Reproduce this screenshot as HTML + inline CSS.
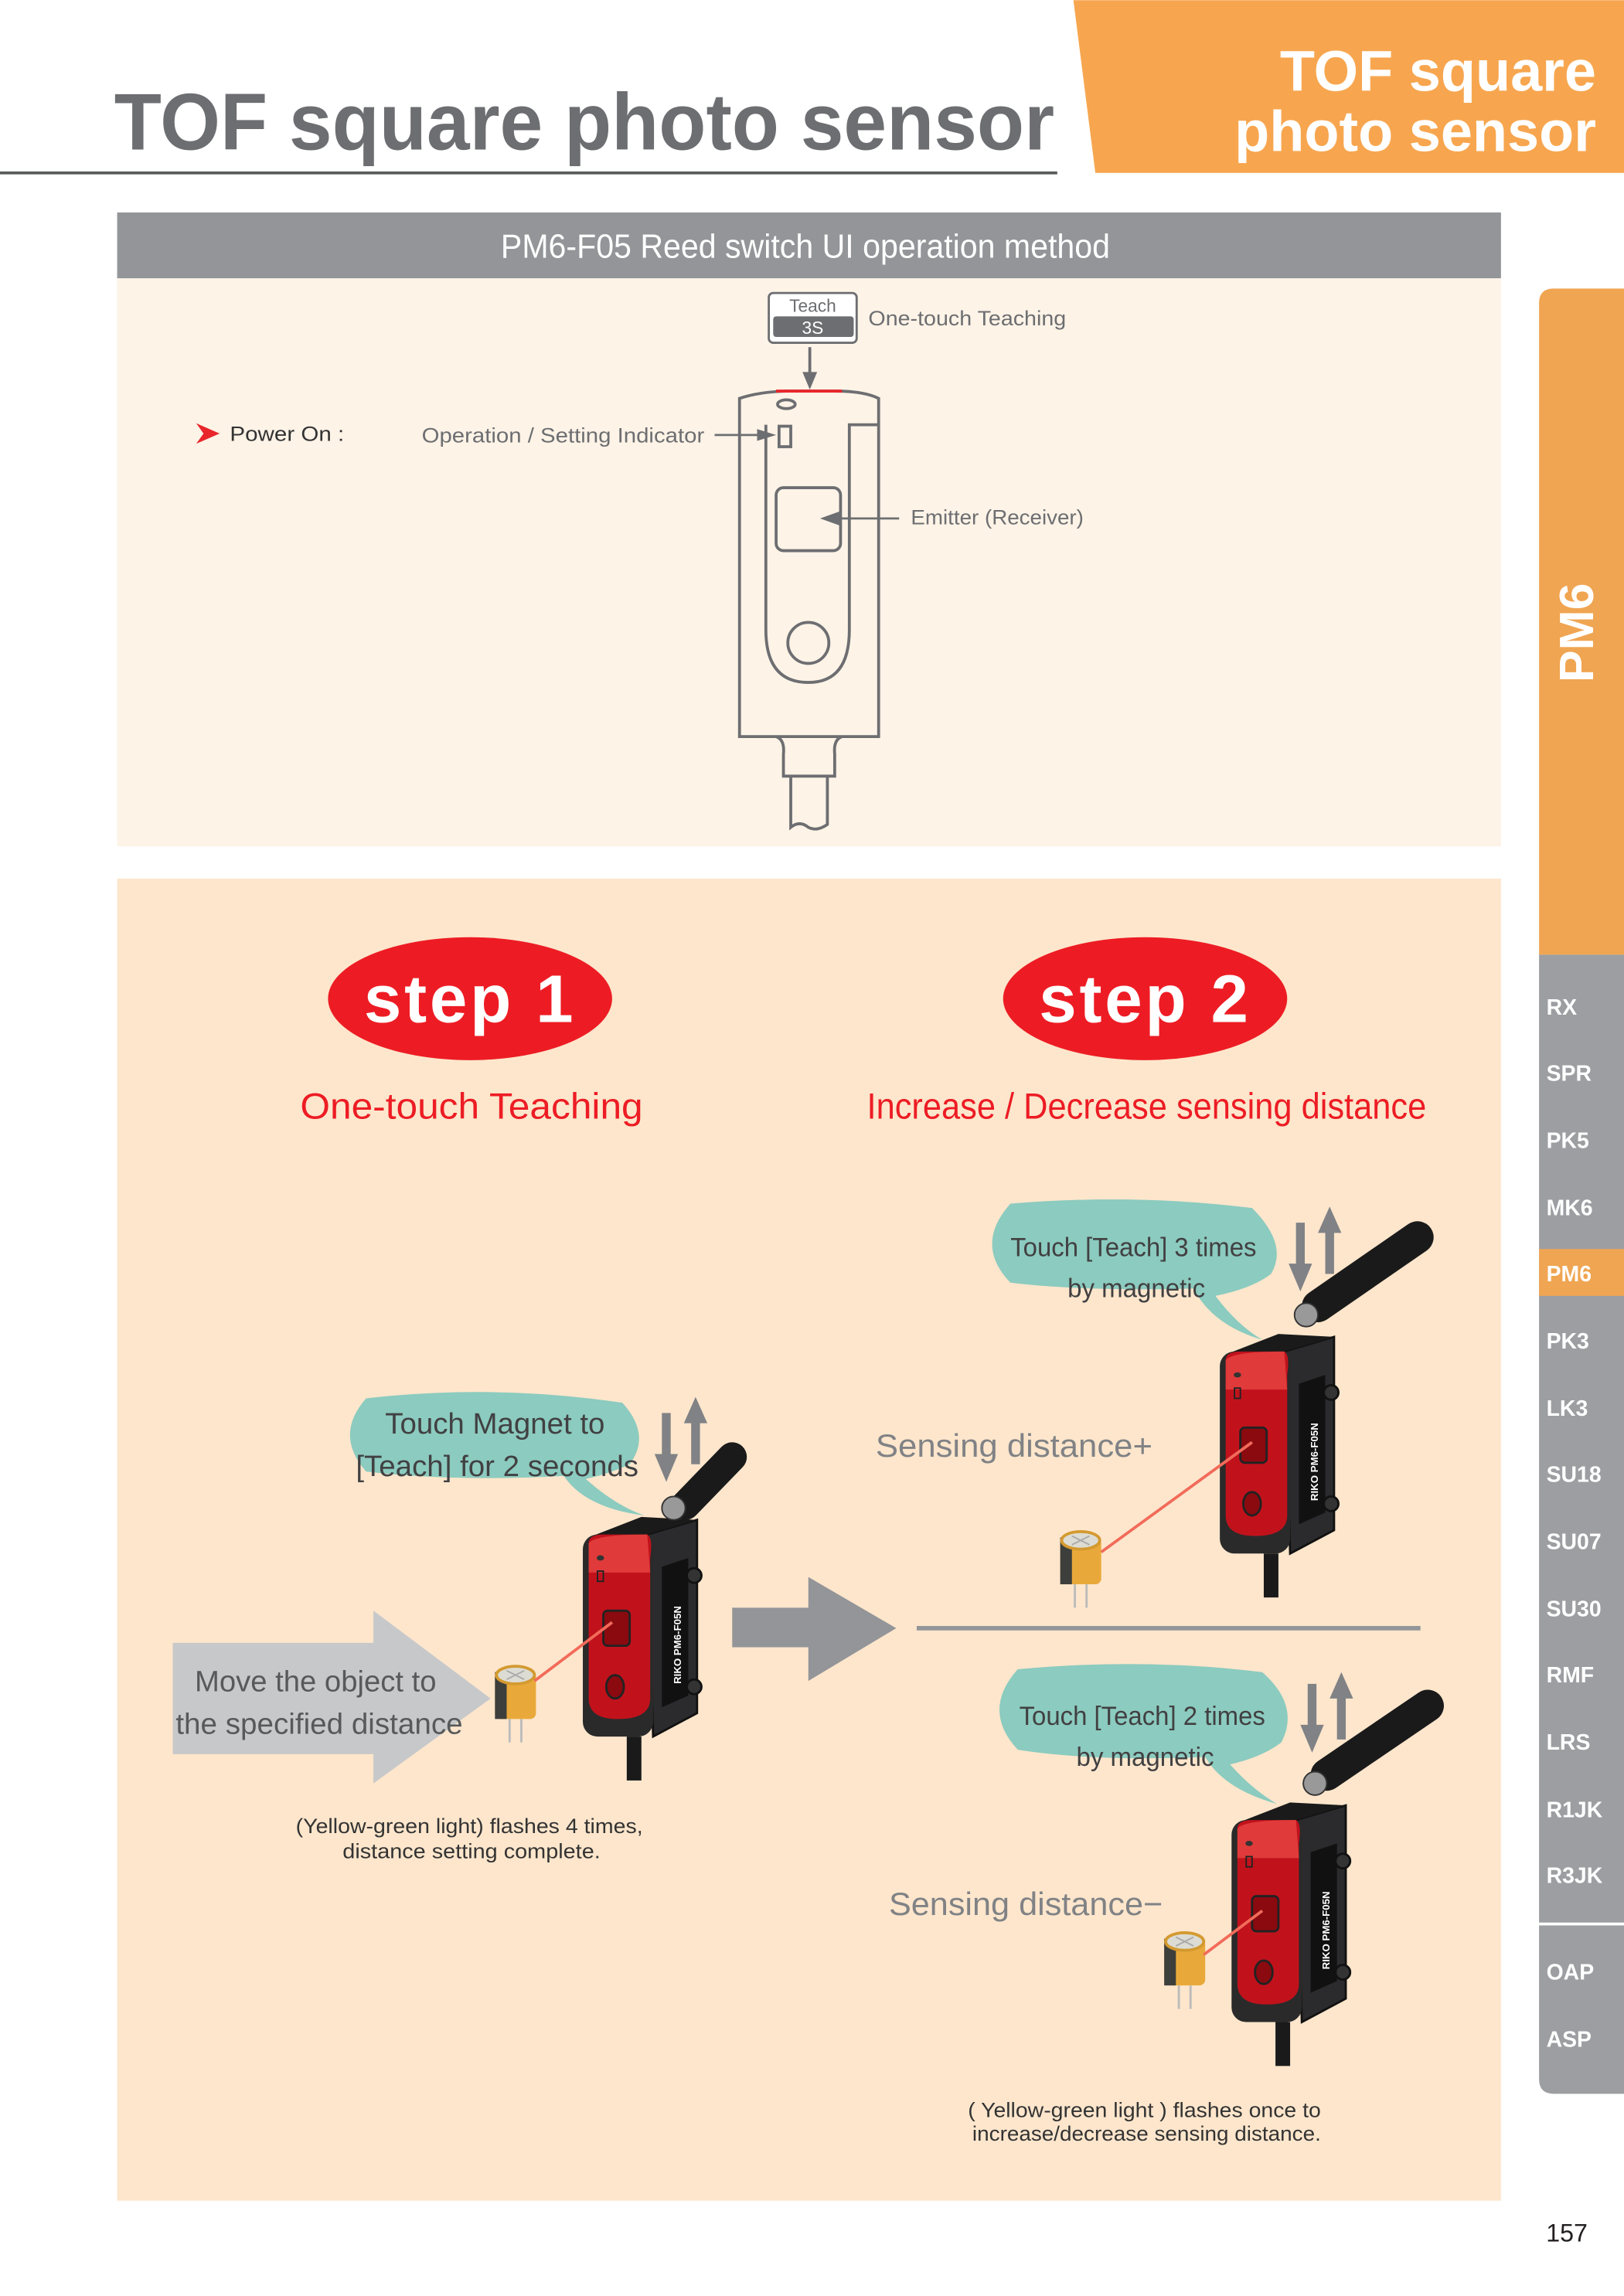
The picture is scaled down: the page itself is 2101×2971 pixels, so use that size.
<!DOCTYPE html>
<html><head><meta charset="utf-8"><style>html,body{margin:0;padding:0;background:#fff}svg{display:block}</style></head>
<body>
<svg xmlns="http://www.w3.org/2000/svg" width="2101" height="2971" viewBox="0 0 1109 1568" font-family="Liberation Sans, sans-serif">
<defs>
<g id="sensor">
  <path d="M44,8 L78,-2 L78,130 L48,146 Z" fill="#2b2b2d" stroke="#111" stroke-width="1.5"/>
  <path d="M4,10 L44,8 L78,-2 L40,-4 Z" fill="#1a1a1a"/>
  <rect x="0" y="8" width="48" height="138" rx="10" fill="#2a2a2a"/>
  <path d="M4,14 Q4,8 14,8 L44,8 Q48,10 46,24 L46,120 Q46,134 24,134 Q4,134 4,120 Z" fill="#c1121c"/>
  <path d="M4,14 Q8,8 44,8 L46,34 L4,34 Z" fill="#e03a3a"/>
  <rect x="14" y="60" width="18" height="24" rx="3" fill="#8a0a10" stroke="#222" stroke-width="1.5"/>
  <ellipse cx="22" cy="112" rx="6" ry="8" fill="#8a0a10" stroke="#222" stroke-width="1.5"/>
  <ellipse cx="12" cy="24" rx="2.5" ry="1.8" fill="#333"/>
  <rect x="10" y="33" width="4" height="7" fill="none" stroke="#222" stroke-width="1"/>
  <path d="M54,30 L72,24 L72,118 L54,126 Z" fill="#111"/>
  <circle cx="76" cy="36" r="5" fill="#333" stroke="#111" stroke-width="1.5"/>
  <circle cx="76" cy="112" r="5" fill="#333" stroke="#111" stroke-width="1.5"/>
  <rect x="30" y="146" width="10" height="30" fill="#1a1a1a"/>
</g>
<g id="cap">
  <rect x="0" y="4" width="28" height="32" rx="4" fill="#e9a93a"/>
  <rect x="0" y="4" width="8" height="32" fill="#3d3f3c"/>
  <ellipse cx="14" cy="6" rx="13" ry="6" fill="#dcdcd4" stroke="#d49a30" stroke-width="2"/>
  <path d="M8,3 L20,9 M20,3 L8,9" stroke="#aaa" stroke-width="1"/>
  <path d="M10,36 L10,52 M18,36 L18,52" stroke="#bbb" stroke-width="1.5"/>
</g>
</defs>

<text x="78" y="102" font-size="55" font-weight="bold" fill="#6d6e71" textLength="642" lengthAdjust="spacingAndGlyphs">TOF square photo sensor</text>
<line x1="0" y1="118" x2="722" y2="118" stroke="#58595b" stroke-width="2"/>
<polygon points="733,0 1109,0 1109,118 748,118" fill="#f7a64f"/>
<text x="1090" y="62" font-size="39" font-weight="bold" fill="#fff" text-anchor="end">TOF square</text>
<text x="1090" y="103" font-size="39" font-weight="bold" fill="#fff" text-anchor="end">photo sensor</text>

<rect x="80" y="145" width="945" height="45" fill="#939598"/>
<text x="342" y="176" font-size="23" fill="#fff" textLength="416" lengthAdjust="spacingAndGlyphs">PM6-F05 Reed switch UI operation method</text>
<rect x="80" y="190" width="945" height="388" fill="#fdf3e7"/>

<polygon points="134,289 150,296 134,303 139,296" fill="#e8262b"/>
<text x="157" y="301" font-size="14" fill="#333" textLength="78" lengthAdjust="spacingAndGlyphs">Power On :</text>
<text x="288" y="302" font-size="14" fill="#6d6e71" textLength="193" lengthAdjust="spacingAndGlyphs">Operation / Setting Indicator</text>
<line x1="488" y1="297" x2="520" y2="297" stroke="#6d6e71" stroke-width="1.5"/>
<polygon points="530,297 517,293 517,301" fill="#6d6e71"/>

<rect x="525" y="200" width="60" height="34" rx="3" fill="#fff" stroke="#6d6e71" stroke-width="1.5"/>
<text x="555" y="213" font-size="12" fill="#6d6e71" text-anchor="middle">Teach</text>
<rect x="528" y="216" width="55" height="14" rx="2" fill="#6d6e71"/>
<text x="555" y="228" font-size="12" fill="#fff" text-anchor="middle">3S</text>
<text x="593" y="222" font-size="14" fill="#6d6e71" textLength="135" lengthAdjust="spacingAndGlyphs">One-touch Teaching</text>
<line x1="553" y1="237" x2="553" y2="256" stroke="#6d6e71" stroke-width="2"/>
<polygon points="553,266 548,254 558,254" fill="#6d6e71"/>

<g fill="none" stroke="#6d6e71" stroke-width="2">
  <path d="M505,503 L505,272 Q520,267 540,267 L570,267 Q590,267 600,272 L600,503 Z"/>
  <path d="M523,290 L523,430 Q523,466 552,466 Q580,466 580,430 L580,290 L600,290"/>
  <rect x="530" y="333" width="44" height="43" rx="5"/>
  <circle cx="552" cy="439" r="14"/>
  <ellipse cx="537" cy="276" rx="6" ry="3"/>
  <rect x="532" y="291" width="8" height="14"/>
  <path d="M530,503 Q536,505 535,515 L535,530 L570,530 L570,515 Q569,505 575,503"/>
  <path d="M540,530 L540,565 Q546,560 552,565 Q558,568 565,563 L565,530"/>
</g>
<line x1="530" y1="267" x2="575" y2="267" stroke="#e8262b" stroke-width="2"/>
<line x1="614" y1="354" x2="572" y2="354" stroke="#6d6e71" stroke-width="1.5"/>
<polygon points="560,354 574,349 574,359" fill="#6d6e71"/>
<text x="622" y="358" font-size="14" fill="#6d6e71" textLength="118" lengthAdjust="spacingAndGlyphs">Emitter (Receiver)</text>

<rect x="80" y="600" width="945" height="903" fill="#fde6cc"/>
<ellipse cx="321" cy="682" rx="97" ry="42" fill="#ed1c24"/>
<text x="321" y="698" font-size="46" font-weight="bold" fill="#fff" text-anchor="middle" letter-spacing="2">step 1</text>
<ellipse cx="782" cy="682" rx="97" ry="42" fill="#ed1c24"/>
<text x="782" y="698" font-size="46" font-weight="bold" fill="#fff" text-anchor="middle" letter-spacing="2">step 2</text>
<text x="205" y="764" font-size="25" fill="#ed1c24" textLength="234" lengthAdjust="spacingAndGlyphs">One-touch Teaching</text>
<text x="592" y="764" font-size="25" fill="#ed1c24" textLength="382" lengthAdjust="spacingAndGlyphs">Increase / Decrease sensing distance</text>

<path d="M250,955 Q337,945 425,958 Q445,980 430,1000 Q415,1007 400,1010 Q420,1028 440,1035 Q400,1030 385,1008 Q310,1012 250,1005 Q228,980 250,955 Z" fill="#8ccbbf"/>
<text x="263" y="979" font-size="20" fill="#414042" textLength="150" lengthAdjust="spacingAndGlyphs">Touch Magnet to</text>
<text x="243" y="1008" font-size="20" fill="#414042" textLength="193" lengthAdjust="spacingAndGlyphs">[Teach] for 2 seconds</text>
<polygon points="118,1122 255,1122 255,1100 335,1160 255,1218 255,1198 118,1198" fill="#c7c8ca"/>
<text x="133" y="1155" font-size="20" fill="#58595b" textLength="165" lengthAdjust="spacingAndGlyphs">Move the object to</text>
<text x="120" y="1184" font-size="20" fill="#58595b" textLength="196" lengthAdjust="spacingAndGlyphs">the specified distance</text>
<use href="#cap" x="338" y="1138"/>
<use href="#sensor" x="398" y="1040"/>
<line x1="418" y1="1108" x2="365" y2="1148" stroke="#f26b5a" stroke-width="2"/>
<line x1="468" y1="1028" x2="500" y2="995" stroke="#1a1a1a" stroke-width="20" stroke-linecap="round"/>
<circle cx="460" cy="1030" r="8" fill="#999" stroke="#333"/>
<g fill="#808285">
<rect x="452" y="965" width="6" height="30"/><polygon points="447,993 463,993 455,1012"/>
<rect x="472" y="970" width="6" height="30"/><polygon points="467,972 483,972 475,954"/>
</g>
<text x="202" y="1252" font-size="14" fill="#333" textLength="237" lengthAdjust="spacingAndGlyphs">(Yellow-green light) flashes 4 times,</text>
<text x="234" y="1269" font-size="14" fill="#333" textLength="176" lengthAdjust="spacingAndGlyphs">distance setting complete.</text>

<rect x="500" y="1098" width="53" height="27" fill="#939598"/>
<polygon points="552,1077 612,1112 552,1148" fill="#939598"/>
<line x1="626" y1="1112" x2="970" y2="1112" stroke="#939598" stroke-width="3"/>

<path d="M690,822 Q775,815 855,825 Q880,850 868,870 Q855,880 830,885 Q845,905 862,915 Q828,905 815,880 Q740,882 690,876 Q665,850 690,822 Z" fill="#8ccbbf"/>
<text x="690" y="858" font-size="18" fill="#414042" textLength="168" lengthAdjust="spacingAndGlyphs">Touch [Teach] 3 times</text>
<text x="729" y="886" font-size="18" fill="#414042" textLength="94" lengthAdjust="spacingAndGlyphs">by magnetic</text>
<text x="598" y="995" font-size="22" fill="#808285" textLength="189" lengthAdjust="spacingAndGlyphs">Sensing distance+</text>
<use href="#cap" x="724" y="1046"/>
<use href="#sensor" x="833" y="915"/>
<line x1="855" y1="985" x2="752" y2="1060" stroke="#f26b5a" stroke-width="2"/>
<line x1="900" y1="892" x2="968" y2="845" stroke="#1a1a1a" stroke-width="22" stroke-linecap="round"/>
<circle cx="892" cy="898" r="8" fill="#999" stroke="#333"/>
<g fill="#808285">
<rect x="885" y="835" width="6" height="30"/><polygon points="880,863 896,863 888,882"/>
<rect x="905" y="840" width="6" height="30"/><polygon points="900,842 916,842 908,824"/>
</g>

<path d="M695,1140 Q780,1132 862,1142 Q888,1165 875,1190 Q862,1200 840,1205 Q855,1222 872,1232 Q836,1222 823,1200 Q745,1203 695,1195 Q670,1168 695,1140 Z" fill="#8ccbbf"/>
<text x="696" y="1178" font-size="18" fill="#414042" textLength="168" lengthAdjust="spacingAndGlyphs">Touch [Teach] 2 times</text>
<text x="735" y="1206" font-size="18" fill="#414042" textLength="94" lengthAdjust="spacingAndGlyphs">by magnetic</text>
<text x="607" y="1308" font-size="22" fill="#808285" textLength="187" lengthAdjust="spacingAndGlyphs">Sensing distance−</text>
<use href="#cap" x="795" y="1320"/>
<use href="#sensor" x="841" y="1235"/>
<line x1="862" y1="1305" x2="822" y2="1335" stroke="#f26b5a" stroke-width="2"/>
<line x1="906" y1="1212" x2="975" y2="1165" stroke="#1a1a1a" stroke-width="22" stroke-linecap="round"/>
<circle cx="898" cy="1218" r="8" fill="#999" stroke="#333"/>
<g fill="#808285">
<rect x="893" y="1150" width="6" height="30"/><polygon points="888,1178 904,1178 896,1197"/>
<rect x="913" y="1158" width="6" height="30"/><polygon points="908,1160 924,1160 916,1142"/>
</g>
<text x="661" y="1446" font-size="14" fill="#333" textLength="241" lengthAdjust="spacingAndGlyphs">( Yellow-green light ) flashes once to</text>
<text x="664" y="1462" font-size="14" fill="#333" textLength="238" lengthAdjust="spacingAndGlyphs">increase/decrease sensing distance.</text>

<g font-size="7" font-weight="bold" fill="#fff">
<text transform="translate(465,1150) rotate(-90)">RIKO PM6-F05N</text>
<text transform="translate(900,1025) rotate(-90)">RIKO PM6-F05N</text>
<text transform="translate(908,1345) rotate(-90)">RIKO PM6-F05N</text>
</g>

<path d="M1061,197 L1109,197 L1109,652 L1051,652 L1051,207 Q1051,197 1061,197 Z" fill="#f0a552"/>
<path d="M1051,652 L1109,652 L1109,1430 L1061,1430 Q1051,1430 1051,1420 Z" fill="#9d9ea2"/>
<rect x="1051" y="853" width="58" height="32" fill="#f0a552"/>
<line x1="1051" y1="1314" x2="1109" y2="1314" stroke="#fff" stroke-width="2"/>
<text transform="translate(1088,466) rotate(-90)" font-size="33" font-weight="bold" fill="#fff">PM6</text>
<g font-size="15" font-weight="bold" fill="#fff">
<text x="1056" y="693">RX</text><text x="1056" y="738">SPR</text><text x="1056" y="784">PK5</text>
<text x="1056" y="830">MK6</text><text x="1056" y="875">PM6</text><text x="1056" y="921">PK3</text>
<text x="1056" y="967">LK3</text><text x="1056" y="1012">SU18</text><text x="1056" y="1058">SU07</text>
<text x="1056" y="1104">SU30</text><text x="1056" y="1149">RMF</text><text x="1056" y="1195">LRS</text>
<text x="1056" y="1241">R1JK</text><text x="1056" y="1286">R3JK</text><text x="1056" y="1352">OAP</text>
<text x="1056" y="1398">ASP</text>
</g>
<text x="1070" y="1531" font-size="17" fill="#231f20" text-anchor="middle">157</text>
</svg>
</body></html>
